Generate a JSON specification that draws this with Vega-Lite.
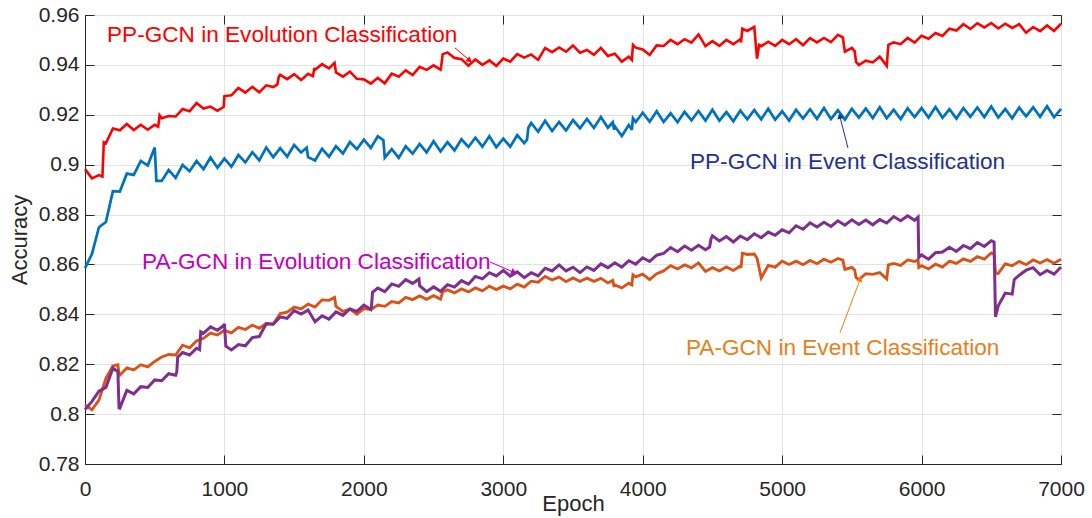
{
"$schema": "https://vega.github.io/schema/vega-lite/v6.json",
"width": 976, "height": 449,
"autosize": "none",
"padding": {"left": 85, "top": 15, "right": 31, "bottom": 54},
"background": "white",
"config": {
  "view": {"stroke": "#262626", "strokeWidth": 1},
  "axis": {"labelFont": "Liberation Sans", "labelFontSize": 21, "labelColor": "#262626", "titleFont": "Liberation Sans", "titleFontSize": 22, "titleColor": "#262626", "titleFontWeight": "normal", "domainColor": "#262626", "tickColor": "#262626", "gridColor": "#E3E3E3", "gridOpacity": 1, "gridWidth": 1, "labelFlush": false}
},
"datasets": {
"acc": [
{"e":0,"r":0.8982,"b":0.8585,"p":0.8018,"o":0.8037},
{"e":50,"r":0.8945,"b":0.8642,"p":0.8051,"o":0.8017},
{"e":100,"r":0.8958,"b":0.8749,"p":0.8092,"o":0.8056},
{"e":125,"r":0.8952},
{"e":135,"r":0.9090},
{"e":150,"r":0.9086,"b":0.8770,"p":0.8107,"o":0.8143},
{"e":200,"r":0.9145,"b":0.8894,"p":0.8184,"o":0.8193},
{"e":236,"p":0.8170,"o":0.8198},
{"e":244,"p":0.8025,"o":0.8160},
{"e":250,"r":0.9138,"b":0.8892,"p":0.8024,"o":0.8156},
{"e":300,"r":0.9163,"b":0.8964,"p":0.8095,"o":0.8185},
{"e":350,"r":0.9139,"b":0.8959,"p":0.8081,"o":0.8177},
{"e":400,"r":0.9160,"b":0.9015,"p":0.8110,"o":0.8198},
{"e":450,"r":0.9140,"b":0.8997,"p":0.8107,"o":0.8189},
{"e":500,"r":0.9160,"b":0.9069,"p":0.8137,"o":0.8211},
{"e":512,"b":0.8935},
{"e":525,"r":0.9152},
{"e":535,"r":0.9198},
{"e":550,"r":0.9186,"b":0.8935,"p":0.8134,"o":0.8229},
{"e":600,"r":0.9195,"b":0.8979,"p":0.8162,"o":0.8239},
{"e":650,"r":0.9193,"b":0.8947,"p":0.8156,"o":0.8237},
{"e":658,"p":0.8168},
{"e":665,"p":0.8228},
{"e":700,"r":0.9223,"b":0.8999,"p":0.8247,"o":0.8276},
{"e":750,"r":0.9214,"b":0.8974,"p":0.8237,"o":0.8266},
{"e":800,"r":0.9247,"b":0.9015,"p":0.8264,"o":0.8293},
{"e":822,"p":0.8258},
{"e":830,"p":0.8330},
{"e":850,"r":0.9225,"b":0.8982,"p":0.8324,"o":0.8304},
{"e":900,"r":0.9233,"b":0.9029,"p":0.8350,"o":0.8325},
{"e":950,"r":0.9216,"b":0.8988,"p":0.8336,"o":0.8317},
{"e":995,"r":0.9232,"p":0.8355},
{"e":1000,"r":0.9275,"b":0.9024,"p":0.8362,"o":0.8336},
{"e":1010,"p":0.8272},
{"e":1050,"r":0.9278,"b":0.8992,"p":0.8257,"o":0.8326},
{"e":1100,"r":0.9308,"b":0.9039,"p":0.8279,"o":0.8348},
{"e":1150,"r":0.9289,"b":0.9009,"p":0.8274,"o":0.8339},
{"e":1200,"r":0.9312,"b":0.9050,"p":0.8307,"o":0.8357},
{"e":1250,"r":0.9290,"b":0.9017,"p":0.8311,"o":0.8344},
{"e":1300,"r":0.9318,"b":0.9069,"p":0.8362,"o":0.8363},
{"e":1350,"r":0.9311,"b":0.9030,"p":0.8360,"o":0.8361},
{"e":1380,"r":0.9322},
{"e":1390,"r":0.9352},
{"e":1400,"r":0.9360,"b":0.9066,"p":0.8389,"o":0.8403},
{"e":1450,"r":0.9343,"b":0.9032,"p":0.8384,"o":0.8409},
{"e":1500,"r":0.9363,"b":0.9079,"p":0.8415,"o":0.8429},
{"e":1550,"r":0.9339,"b":0.9049,"p":0.8401,"o":0.8422},
{"e":1590,"b":0.9068},
{"e":1600,"r":0.9364,"b":0.9030,"p":0.8417,"o":0.8441},
{"e":1635,"r":0.9355},
{"e":1645,"r":0.9388},
{"e":1650,"r":0.9380,"b":0.9017,"p":0.8370,"o":0.8429},
{"e":1700,"r":0.9403,"b":0.9064,"p":0.8394,"o":0.8458},
{"e":1750,"r":0.9386,"b":0.9032,"p":0.8381,"o":0.8456},
{"e":1790,"r":0.9408,"o":0.8468},
{"e":1800,"r":0.9370,"b":0.9074,"p":0.8410,"o":0.8432},
{"e":1850,"r":0.9353,"b":0.9045,"p":0.8396,"o":0.8412},
{"e":1900,"r":0.9373,"b":0.9091,"p":0.8422,"o":0.8421},
{"e":1950,"r":0.9344,"b":0.9062,"p":0.8412,"o":0.8401},
{"e":2000,"r":0.9342,"b":0.9100,"p":0.8437,"o":0.8423},
{"e":2050,"r":0.9325,"b":0.9067,"p":0.8419,"o":0.8419},
{"e":2055,"p":0.8432},
{"e":2062,"p":0.8488},
{"e":2100,"r":0.9348,"b":0.9114,"p":0.8505,"o":0.8437},
{"e":2140,"b":0.9098},
{"e":2150,"r":0.9326,"b":0.9028,"p":0.8491,"o":0.8432},
{"e":2200,"r":0.9365,"b":0.9062,"p":0.8522,"o":0.8451},
{"e":2250,"r":0.9353,"b":0.9027,"p":0.8512,"o":0.8446},
{"e":2300,"r":0.9378,"b":0.9074,"p":0.8539,"o":0.8468},
{"e":2350,"r":0.9359,"b":0.9044,"p":0.8524,"o":0.8459},
{"e":2395,"p":0.8542},
{"e":2400,"r":0.9392,"b":0.9083,"p":0.8515,"o":0.8474},
{"e":2450,"r":0.9380,"b":0.9049,"p":0.8491,"o":0.8460},
{"e":2500,"r":0.9398,"b":0.9094,"p":0.8510,"o":0.8475},
{"e":2550,"r":0.9381,"b":0.9053,"p":0.8492,"o":0.8461},
{"e":2555,"r":0.9395,"o":0.8470},
{"e":2565,"r":0.9442,"o":0.8490},
{"e":2600,"r":0.9450,"b":0.9090,"p":0.8519,"o":0.8498},
{"e":2650,"r":0.9428,"b":0.9057,"p":0.8509,"o":0.8486},
{"e":2700,"r":0.9423,"b":0.9102,"p":0.8535,"o":0.8502},
{"e":2750,"r":0.9397,"b":0.9071,"p":0.8521,"o":0.8490},
{"e":2800,"r":0.9422,"b":0.9108,"p":0.8552,"o":0.8506},
{"e":2850,"r":0.9400,"b":0.9072,"p":0.8542,"o":0.8494},
{"e":2900,"r":0.9418,"b":0.9114,"p":0.8567,"o":0.8513},
{"e":2950,"r":0.9396,"b":0.9070,"p":0.8554,"o":0.8499},
{"e":3000,"r":0.9425,"b":0.9104,"p":0.8576,"o":0.8513},
{"e":3050,"r":0.9413,"b":0.9072,"p":0.8553,"o":0.8502},
{"e":3100,"r":0.9443,"b":0.9119,"p":0.8570,"o":0.8521},
{"e":3150,"r":0.9429,"b":0.9086,"p":0.8547,"o":0.8509},
{"e":3170,"b":0.9100},
{"e":3180,"b":0.9148},
{"e":3200,"r":0.9442,"b":0.9167,"p":0.8567,"o":0.8533},
{"e":3250,"r":0.9420,"b":0.9132,"p":0.8554,"o":0.8529},
{"e":3300,"r":0.9468,"b":0.9176,"p":0.8585,"o":0.8552},
{"e":3350,"r":0.9451,"b":0.9135,"p":0.8574,"o":0.8538},
{"e":3400,"r":0.9470,"b":0.9171,"p":0.8598,"o":0.8549},
{"e":3450,"r":0.9453,"b":0.9137,"p":0.8574,"o":0.8531},
{"e":3500,"r":0.9478,"b":0.9179,"p":0.8589,"o":0.8546},
{"e":3550,"r":0.9449,"b":0.9146,"p":0.8567,"o":0.8532},
{"e":3600,"r":0.9460,"b":0.9183,"p":0.8590,"o":0.8545},
{"e":3650,"r":0.9440,"b":0.9147,"p":0.8576,"o":0.8532},
{"e":3700,"r":0.9468,"b":0.9191,"p":0.8602,"o":0.8544},
{"e":3750,"r":0.9436,"b":0.9148,"p":0.8587,"o":0.8526},
{"e":3785,"b":0.9170,"o":0.8536},
{"e":3795,"b":0.9140,"o":0.8510},
{"e":3800,"r":0.9445,"b":0.9154,"p":0.8607,"o":0.8518},
{"e":3850,"r":0.9413,"b":0.9115,"p":0.8589,"o":0.8506},
{"e":3900,"r":0.9433,"b":0.9159,"p":0.8615,"o":0.8525},
{"e":3922,"r":0.9420,"b":0.9140,"o":0.8518},
{"e":3930,"r":0.9480,"b":0.9186,"o":0.8558},
{"e":3950,"r":0.9469,"b":0.9171,"p":0.8601,"o":0.8550},
{"e":4000,"r":0.9462,"b":0.9208,"p":0.8627,"o":0.8561},
{"e":4050,"r":0.9440,"b":0.9172,"p":0.8612,"o":0.8539},
{"e":4100,"r":0.9478,"b":0.9214,"p":0.8637,"o":0.8563},
{"e":4150,"r":0.9476,"b":0.9171,"p":0.8644,"o":0.8574},
{"e":4200,"r":0.9500,"b":0.9206,"p":0.8668,"o":0.8595},
{"e":4250,"r":0.9483,"b":0.9170,"p":0.8651,"o":0.8582},
{"e":4300,"r":0.9503,"b":0.9212,"p":0.8674,"o":0.8598},
{"e":4350,"r":0.9489,"b":0.9178,"p":0.8657,"o":0.8586},
{"e":4400,"r":0.9522,"b":0.9215,"p":0.8677,"o":0.8606},
{"e":4450,"r":0.9475,"b":0.9177,"p":0.8659,"o":0.8572},
{"e":4480,"p":0.8670},
{"e":4490,"p":0.8703},
{"e":4500,"r":0.9495,"b":0.9220,"p":0.8715,"o":0.8587},
{"e":4550,"r":0.9476,"b":0.9176,"p":0.8694,"o":0.8574},
{"e":4600,"r":0.9500,"b":0.9211,"p":0.8712,"o":0.8590},
{"e":4650,"r":0.9483,"b":0.9174,"p":0.8690,"o":0.8576},
{"e":4700,"r":0.9503,"b":0.9217,"p":0.8714,"o":0.8594},
{"e":4705,"r":0.9490,"o":0.8586},
{"e":4715,"r":0.9545,"o":0.8645},
{"e":4750,"r":0.9536,"b":0.9182,"p":0.8699,"o":0.8640},
{"e":4800,"r":0.9552,"b":0.9219,"p":0.8723,"o":0.8642},
{"e":4820,"r":0.9425,"o":0.8625},
{"e":4835,"r":0.9480},
{"e":4850,"r":0.9475,"b":0.9182,"p":0.8707,"o":0.8546},
{"e":4900,"r":0.9493,"b":0.9224,"p":0.8730,"o":0.8596},
{"e":4950,"r":0.9476,"b":0.9180,"p":0.8717,"o":0.8589},
{"e":5000,"r":0.9500,"b":0.9214,"p":0.8739,"o":0.8613},
{"e":5050,"r":0.9483,"b":0.9177,"p":0.8727,"o":0.8600},
{"e":5100,"r":0.9503,"b":0.9220,"p":0.8755,"o":0.8613},
{"e":5150,"r":0.9479,"b":0.9185,"p":0.8741,"o":0.8599},
{"e":5200,"r":0.9507,"b":0.9222,"p":0.8767,"o":0.8616},
{"e":5250,"r":0.9490,"b":0.9184,"p":0.8750,"o":0.8603},
{"e":5300,"r":0.9508,"b":0.9227,"p":0.8769,"o":0.8621},
{"e":5350,"r":0.9491,"b":0.9183,"p":0.8752,"o":0.8609},
{"e":5400,"r":0.9520,"b":0.9218,"p":0.8775,"o":0.8624},
{"e":5435,"r":0.9510,"o":0.8617},
{"e":5450,"r":0.9453,"b":0.9181,"p":0.8757,"o":0.8580},
{"e":5500,"r":0.9468,"b":0.9224,"p":0.8779,"o":0.8588},
{"e":5520,"r":0.9455,"o":0.8578},
{"e":5530,"r":0.9412,"o":0.8548},
{"e":5550,"r":0.9399,"b":0.9189,"p":0.8760,"o":0.8539},
{"e":5600,"r":0.9417,"b":0.9225,"p":0.8778,"o":0.8563},
{"e":5650,"r":0.9410,"b":0.9187,"p":0.8759,"o":0.8560},
{"e":5700,"r":0.9433,"b":0.9230,"p":0.8780,"o":0.8567},
{"e":5750,"r":0.9396,"b":0.9186,"p":0.8766,"o":0.8542},
{"e":5762,"r":0.9480,"o":0.8598},
{"e":5800,"r":0.9490,"b":0.9220,"p":0.8792,"o":0.8604},
{"e":5850,"r":0.9483,"b":0.9183,"p":0.8775,"o":0.8596},
{"e":5900,"r":0.9508,"b":0.9226,"p":0.8795,"o":0.8618},
{"e":5950,"r":0.9489,"b":0.9191,"p":0.8777,"o":0.8612},
{"e":5975,"p":0.8790,"o":0.8618},
{"e":5980,"p":0.8628,"o":0.8588},
{"e":6000,"r":0.9517,"b":0.9227,"p":0.8638,"o":0.8595},
{"e":6050,"r":0.9505,"b":0.9189,"p":0.8621,"o":0.8582},
{"e":6100,"r":0.9528,"b":0.9231,"p":0.8647,"o":0.8601},
{"e":6150,"r":0.9516,"b":0.9188,"p":0.8650,"o":0.8589},
{"e":6200,"r":0.9545,"b":0.9222,"p":0.8669,"o":0.8613},
{"e":6250,"r":0.9538,"b":0.9185,"p":0.8652,"o":0.8604},
{"e":6300,"r":0.9563,"b":0.9227,"p":0.8676,"o":0.8622},
{"e":6350,"r":0.9544,"b":0.9192,"p":0.8663,"o":0.8612},
{"e":6400,"r":0.9567,"b":0.9229,"p":0.8688,"o":0.8631},
{"e":6450,"r":0.9550,"b":0.9191,"p":0.8672,"o":0.8621},
{"e":6500,"r":0.9568,"b":0.9233,"p":0.8695,"o":0.8646},
{"e":6520,"p":0.8690,"o":0.8640},
{"e":6530,"p":0.8390,"o":0.8565},
{"e":6550,"r":0.9546,"b":0.9189,"p":0.8434,"o":0.8564},
{"e":6600,"r":0.9565,"b":0.9223,"p":0.8485,"o":0.8602},
{"e":6650,"r":0.9548,"b":0.9186,"p":0.8481,"o":0.8595},
{"e":6665,"p":0.8540},
{"e":6700,"r":0.9563,"b":0.9229,"p":0.8557,"o":0.8612},
{"e":6750,"r":0.9529,"b":0.9194,"p":0.8577,"o":0.8599},
{"e":6800,"r":0.9552,"b":0.9230,"p":0.8587,"o":0.8618},
{"e":6850,"r":0.9535,"b":0.9192,"p":0.8559,"o":0.8606},
{"e":6900,"r":0.9558,"b":0.9234,"p":0.8576,"o":0.8619},
{"e":6950,"r":0.9536,"b":0.9190,"p":0.8561,"o":0.8605},
{"e":7000,"r":0.9565,"b":0.9224,"p":0.8590,"o":0.8621}
],
"ann": [
{"k":"pe","t":"PP-GCN in Evolution Classification","tx":158,"ty":0.9518,"x1":2654,"y1":0.9468,"x2":2754,"y2":0.9420},
{"k":"pv","t":"PP-GCN in Event Classification","tx":4339,"ty":0.9010,"x1":5472,"y1":0.9067,"x2":5415,"y2":0.9191},
{"k":"ae","t":"PA-GCN in Evolution Classification","tx":409,"ty":0.8611,"x1":2905,"y1":0.8610,"x2":3070,"y2":0.8570},
{"k":"av","t":"PA-GCN in Event Classification","tx":4310,"ty":0.8264,"x1":5415,"y1":0.8326,"x2":5558,"y2":0.8538}
]
},
"layer": [
{
  "data": {"name": "acc"},
  "transform": [{"fold": ["r", "b", "o", "p"], "as": ["s", "v"]}, {"filter": "isValid(datum.v)"}],
  "mark": {"type": "line", "strokeJoin": "miter", "strokeMiterLimit": 3},
  "encoding": {
    "x": {"field": "e", "type": "quantitative", "scale": {"domain": [0, 7000], "nice": false},
          "axis": {"orient": "bottom", "values": [0,1000,2000,3000,4000,5000,6000,7000], "format": "d", "title": "Epoch", "grid": true, "tickSize": -9, "labelPadding": 23, "titleY": 39, "titleBaseline": "middle", "domainWidth": 1}},
    "y": {"field": "v", "type": "quantitative", "scale": {"domain": [0.78, 0.96], "nice": false, "zero": false},
          "axis": {"orient": "left", "values": [0.78,0.8,0.82,0.84,0.86,0.88,0.9,0.92,0.94,0.96], "format": "~g", "title": "Accuracy", "grid": true, "tickSize": -9, "labelPadding": 15, "titleX": -66, "titleY": 224.5, "titleAngle": -90, "titleAlign": "center", "titleBaseline": "middle", "domainWidth": 1}},
    "color": {"field": "s", "type": "nominal", "scale": {"domain": ["r", "b", "o", "p"], "range": ["#FF0000", "#0072BD", "#D95319", "#7E2F8E"]}, "legend": null},
    "strokeWidth": {"field": "s", "type": "nominal", "scale": {"domain": ["r", "b", "o", "p"], "range": [2.6, 3.0, 2.3, 2.6]}, "legend": null}
  }
},
{
  "data": {"name": "ann"},
  "mark": {"type": "rule", "strokeWidth": 1},
  "encoding": {
    "x": {"field": "x1", "type": "quantitative", "axis": {"orient": "top", "values": [0,1000,2000,3000,4000,5000,6000,7000], "labels": false, "title": null, "grid": false, "domain": false, "tickSize": -9}},
    "y": {"field": "y1", "type": "quantitative", "axis": {"orient": "right", "values": [0.78,0.8,0.82,0.84,0.86,0.88,0.9,0.92,0.94,0.96], "labels": false, "title": null, "grid": false, "domain": false, "tickSize": -9}},
    "x2": {"field": "x2"},
    "y2": {"field": "y2"},
    "color": {"field": "k", "type": "nominal", "scale": {"domain": ["pe", "pv", "ae", "av"], "range": ["#FF0000", "#1F3290", "#C000C0", "#E6801A"]}, "legend": null}
  }
},
{
  "data": {"name": "ann"},
  "mark": {"type": "text", "align": "left", "baseline": "middle", "font": "Liberation Sans", "fontSize": 22.6},
  "encoding": {
    "x": {"field": "tx", "type": "quantitative", "axis": null},
    "y": {"field": "ty", "type": "quantitative", "axis": null},
    "text": {"field": "t"},
    "color": {"field": "k", "type": "nominal", "scale": {"domain": ["pe", "pv", "ae", "av"], "range": ["#FF0000", "#1F3290", "#C000C0", "#E6801A"]}, "legend": null}
  }
},
{
  "data": {"name": "ann"},
  "transform": [{"filter": "datum.k == 'pe'"}],
  "mark": {"type": "point", "shape": "triangle", "filled": true, "size": 40, "angle": 129, "color": "#FF0000", "opacity": 1},
  "encoding": {"x": {"field": "x2", "type": "quantitative", "axis": null}, "y": {"field": "y2", "type": "quantitative", "axis": null}}
},
{
  "data": {"name": "ann"},
  "transform": [{"filter": "datum.k == 'pv'"}],
  "mark": {"type": "point", "shape": "triangle", "filled": true, "size": 40, "angle": 345, "color": "#1F3290", "opacity": 1},
  "encoding": {"x": {"field": "x2", "type": "quantitative", "axis": null}, "y": {"field": "y2", "type": "quantitative", "axis": null}}
},
{
  "data": {"name": "ann"},
  "transform": [{"filter": "datum.k == 'ae'"}],
  "mark": {"type": "point", "shape": "triangle", "filled": true, "size": 40, "angle": 113, "color": "#C000C0", "opacity": 1},
  "encoding": {"x": {"field": "x2", "type": "quantitative", "axis": null}, "y": {"field": "y2", "type": "quantitative", "axis": null}}
},
{
  "data": {"name": "ann"},
  "transform": [{"filter": "datum.k == 'av'"}],
  "mark": {"type": "point", "shape": "triangle", "filled": true, "size": 40, "angle": 21, "color": "#E6801A", "opacity": 1},
  "encoding": {"x": {"field": "x2", "type": "quantitative", "axis": null}, "y": {"field": "y2", "type": "quantitative", "axis": null}}
}
],
"resolve": {"axis": {"x": "independent", "y": "independent"}, "scale": {"color": "independent"}}
}
